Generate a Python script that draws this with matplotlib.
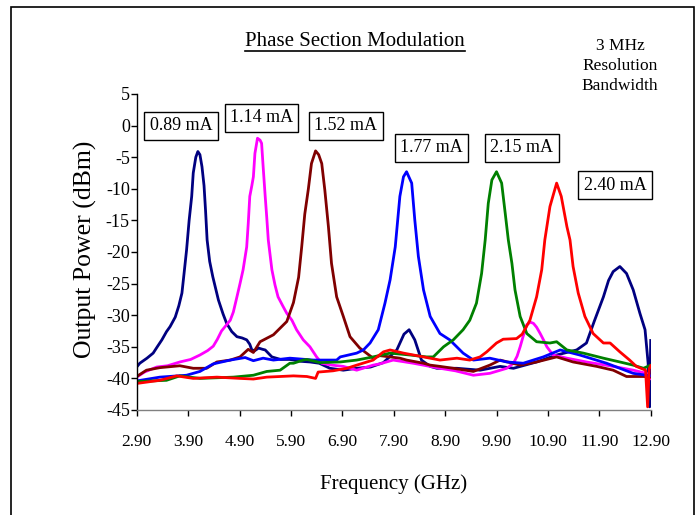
import numpy as np
import matplotlib
matplotlib.use('Agg')
import matplotlib.pyplot as plt
from matplotlib.lines import Line2D
from matplotlib.patches import Rectangle

plt.rcParams['font.family'] = ['Liberation Serif', 'DejaVu Serif']
plt.rcParams['axes.unicode_minus'] = False

# series (GHz, dBm)
navy_f = [2.90, 2.96, 3.10, 3.22, 3.30, 3.39, 3.48, 3.55, 3.65, 3.72, 3.78, 3.82, 3.87, 3.92, 3.97, 4.00,
          4.05, 4.09, 4.13, 4.17, 4.21, 4.24, 4.27, 4.32, 4.38, 4.49, 4.58, 4.65, 4.75, 4.85, 4.95, 5.04,
          5.10, 5.14, 5.20, 5.27, 5.35, 5.40, 5.53, 5.70, 5.88, 6.10, 6.27, 6.45, 6.66, 6.92, 7.18, 7.45,
          7.70, 7.83, 7.96, 8.10, 8.20, 8.31, 8.44, 8.61, 8.74, 9.13, 9.58, 9.97, 10.23, 10.68, 11.07,
          11.46, 11.65, 11.80, 11.98, 12.08, 12.17, 12.30, 12.43, 12.56, 12.69, 12.79, 12.85, 12.88, 12.90]
navy_v = [-38.2, -37.6, -36.8, -36.0, -35.0, -33.9, -32.6, -31.8, -30.3, -28.5, -26.5, -23.5, -19.7, -15.0,
          -11.2, -7.5, -5.0, -4.1, -4.6, -6.5, -9.5, -13.5, -18.1, -21.5, -23.9, -27.6, -29.8, -31.3, -32.6,
          -33.4, -33.6, -33.9, -34.6, -35.5, -35.6, -35.2, -35.4, -35.5, -36.6, -37.0, -37.0, -37.3, -37.4,
          -37.6, -38.4, -38.7, -38.4, -38.2, -37.5, -36.5, -35.5, -33.0, -32.3, -33.9, -37.1, -38.1, -38.4,
          -38.4, -38.7, -38.1, -38.4, -37.4, -36.3, -35.5, -34.4, -31.0, -27.1, -24.5, -23.1, -22.3, -23.4,
          -26.0, -29.7, -32.3, -37.6, -44.5, -34.0]

magenta_f = [2.90, 3.05, 3.29, 3.50, 3.74, 3.95, 4.13, 4.28, 4.39, 4.47, 4.55, 4.65, 4.72, 4.78, 4.85, 4.91,
             4.97, 5.04, 5.07, 5.10, 5.14, 5.17, 5.20, 5.25, 5.30, 5.33, 5.36, 5.40, 5.43, 5.46, 5.53, 5.59,
             5.65, 5.74, 5.82, 5.92, 6.01, 6.14, 6.27, 6.40, 6.50, 6.70, 6.92, 7.18, 7.50, 7.63, 7.89, 8.28,
             8.80, 9.10, 9.45, 9.77, 10.10, 10.23, 10.30, 10.36, 10.42, 10.49, 10.56, 10.62, 10.68, 10.75,
             10.82, 10.88, 11.00, 11.27, 11.65, 12.17, 12.56, 12.82, 12.90]
magenta_v = [-39.8, -39.0, -38.2, -38.0, -37.4, -37.0, -36.3, -35.6, -34.9, -33.8, -32.5, -31.5, -30.8, -29.5,
             -27.1, -25.0, -22.8, -19.2, -15.5, -11.2, -9.5, -8.1, -4.4, -2.0, -2.3, -2.8, -6.5, -11.2, -14.5,
             -18.1, -22.8, -25.2, -27.1, -28.5, -29.7, -30.8, -32.3, -33.9, -35.0, -36.6, -37.6, -37.9, -38.1,
             -38.7, -37.9, -37.7, -37.1, -37.6, -38.4, -38.8, -39.5, -39.2, -38.4, -37.6, -36.5, -35.0, -33.3,
             -31.5, -31.1, -31.3, -31.9, -32.9, -34.0, -35.0, -36.3, -36.8, -37.4, -38.1, -38.7, -39.2, -40.0]

maroon_f = [2.90, 3.09, 3.35, 3.74, 4.00, 4.26, 4.46, 4.72, 4.91, 5.07, 5.17, 5.30, 5.56, 5.82, 5.95, 6.05,
            6.11, 6.17, 6.24, 6.30, 6.38, 6.44, 6.50, 6.56, 6.63, 6.69, 6.79, 6.92, 7.05, 7.24, 7.50, 7.63,
            7.83, 8.02, 8.15, 8.48, 8.61, 8.80, 9.06, 9.45, 9.77, 9.97, 10.36, 10.68, 11.07, 11.39, 11.85,
            12.17, 12.43, 12.76, 12.90]
maroon_v = [-39.7, -38.7, -38.3, -38.0, -38.4, -38.4, -37.4, -37.1, -36.6, -35.4, -35.9, -34.2, -33.1, -31.0,
            -28.0, -24.0, -19.2, -14.0, -10.0, -6.0, -4.0, -4.6, -6.0, -10.2, -16.0, -21.8, -27.1, -30.2,
            -33.4, -35.2, -36.8, -36.4, -36.6, -36.8, -37.1, -37.6, -37.9, -38.1, -38.4, -38.9, -37.9, -37.1,
            -37.9, -37.4, -36.6, -37.4, -38.1, -38.7, -39.7, -39.7, -39.8]

blue_f = [2.90, 3.35, 3.87, 4.13, 4.39, 4.72, 5.01, 5.17, 5.36, 5.56, 5.88, 6.34, 6.79, 6.86, 7.18, 7.31,
          7.44, 7.60, 7.73, 7.83, 7.93, 8.02, 8.09, 8.15, 8.25, 8.31, 8.38, 8.48, 8.61, 8.80, 8.99, 9.25,
          9.45, 9.77, 10.10, 10.42, 10.81, 11.14, 11.52, 12.04, 12.56, 12.82, 12.90]
blue_v = [-40.4, -39.8, -39.5, -38.9, -37.7, -37.1, -36.7, -37.2, -36.8, -37.1, -36.8, -37.1, -37.1, -36.6,
          -36.0, -35.5, -34.4, -32.3, -28.1, -24.4, -19.2, -11.2, -8.1, -7.3, -9.1, -14.9, -20.7, -26.0,
          -30.2, -32.9, -33.9, -36.0, -37.1, -36.8, -37.4, -37.6, -36.6, -35.5, -36.3, -37.6, -39.2, -39.5,
          -39.6]

green_f = [2.90, 3.48, 3.74, 4.13, 4.78, 5.17, 5.43, 5.69, 5.88, 5.95, 6.14, 6.21, 6.47, 6.86, 7.18, 7.50,
           7.83, 8.22, 8.54, 8.67, 8.87, 9.06, 9.25, 9.38, 9.51, 9.61, 9.68, 9.74, 9.81, 9.90, 10.00, 10.07,
           10.13, 10.20, 10.26, 10.36, 10.49, 10.68, 10.94, 11.07, 11.27, 11.59, 11.98, 12.30, 12.56, 12.76,
           12.90]
green_v = [-40.5, -40.3, -39.6, -40.0, -39.8, -39.5, -38.9, -38.7, -37.6, -37.6, -37.1, -37.0, -37.5, -37.4,
           -37.1, -36.6, -36.0, -36.3, -36.6, -36.6, -35.0, -33.9, -32.3, -30.8, -28.1, -23.4, -18.1, -12.3,
           -8.6, -7.3, -9.1, -13.9, -18.1, -21.8, -26.0, -30.2, -32.9, -34.2, -34.4, -34.2, -35.5, -36.0,
           -36.8, -37.4, -37.9, -38.4, -37.9]

red_f = [2.90, 3.35, 3.68, 4.00, 4.46, 4.91, 5.17, 5.43, 5.95, 6.21, 6.38, 6.43, 6.72, 6.99, 7.18, 7.50,
         7.70, 7.83, 8.09, 8.48, 8.80, 9.13, 9.38, 9.58, 9.71, 9.90, 10.03, 10.29, 10.40, 10.55, 10.68, 10.78,
         10.84, 10.94, 11.07, 11.16, 11.27, 11.33, 11.39, 11.49, 11.62, 11.78, 11.98, 12.11, 12.30, 12.49,
         12.62, 12.80, 12.84, 12.87, 12.90]
red_v = [-40.8, -40.3, -39.6, -40.0, -39.8, -40.0, -40.1, -39.8, -39.6, -39.7, -40.0, -39.0, -38.8, -38.4,
         -37.9, -37.1, -35.8, -35.5, -36.0, -36.6, -37.1, -36.8, -37.1, -36.6, -35.8, -34.4, -33.8, -33.7,
         -33.0, -30.8, -27.1, -22.8, -18.1, -12.8, -9.1, -11.2, -16.0, -18.1, -22.3, -26.5, -30.2, -32.9,
         -34.4, -34.4, -35.8, -37.1, -38.1, -38.7, -44.5, -38.5, -38.0]

currents = ['0.89 mA', '1.14 mA', '1.52 mA', '1.77 mA', '2.15 mA', '2.40 mA']
xticks = [2.9, 3.9, 4.9, 5.9, 6.9, 7.9, 8.9, 9.9, 10.9, 11.9, 12.9]
yticks = [5, 0, -5, -10, -15, -20, -25, -30, -35, -40, -45]

series = [(navy_f, navy_v, '#000080'),
          (magenta_f, magenta_v, '#FF00FF'),
          (maroon_f, maroon_v, '#800000'),
          (blue_f, blue_v, '#0000FF'),
          (green_f, green_v, '#008000'),
          (red_f, red_v, '#FF0000')]

# label box centres in pixels (x, y from top)
label_pos = [(181, 126), (261.5, 118), (346, 126), (431.7, 147.7), (522, 148), (615, 185)]

W, H = 699, 515
fig = plt.figure(figsize=(W / 100, H / 100), dpi=100)
ax = fig.add_axes([136.7 / W, 1 - 410 / H, (650.7 - 136.7) / W, (410 - 94) / H])

for f, v, c in series:
    ax.plot(f, v, color=c, lw=2.0, solid_joinstyle='round')

ax.set_xlim(2.9, 12.9)
ax.set_ylim(-45, 5)
ax.set_xticks(xticks)
ax.set_xticklabels(['%.2f' % t for t in xticks], fontsize=12.5)
ax.set_yticks(yticks)
ax.set_yticklabels([str(t) for t in yticks], fontsize=13)
ax.tick_params(axis='x', direction='out', length=4, width=1, pad=13)
ax.tick_params(axis='y', direction='out', length=4, width=1, pad=1)
for s in ['top', 'right']:
    ax.spines[s].set_visible(False)
ax.spines['left'].set_linewidth(1)
ax.spines['bottom'].set_color('#808080')
ax.spines['bottom'].set_linewidth(1)

for txt, (px, py) in zip(currents, label_pos):
    fig.text(px / W, 1 - py / H, txt, ha='center', va='center', fontsize=13,
             bbox=dict(boxstyle='square,pad=0.3', fc='white', ec='black', lw=1))

title = fig.text(355 / W, 1 - 42 / H, 'Phase Section Modulation', ha='center', va='center', fontsize=15)
fig.text(620 / W, 1 - 66 / H, '3 MHz\nResolution\nBandwidth', ha='center', va='center',
         fontsize=12.5, linespacing=1.35)
fig.text(85 / W, 1 - 249 / H, 'Output Power (dBm)', rotation=90, ha='center', va='center', fontsize=18.5)
fig.text(394 / W, 1 - 484 / H, 'Frequency (GHz)', ha='center', va='center', fontsize=15)

# outer frame
fig.patches.append(Rectangle((11 / W, -0.02), (694 - 11) / W, 1.02 - 7 / H, transform=fig.transFigure,
                             fill=False, ec='black', lw=1.2))

# underline the title
fig.canvas.draw()
bb = title.get_window_extent().transformed(fig.transFigure.inverted())
fig.lines.append(Line2D([bb.x0, bb.x1], [bb.y0 + 1 / H, bb.y0 + 1 / H], transform=fig.transFigure,
                        color='black', lw=1.2))

fig.savefig('out.png', dpi=100)
